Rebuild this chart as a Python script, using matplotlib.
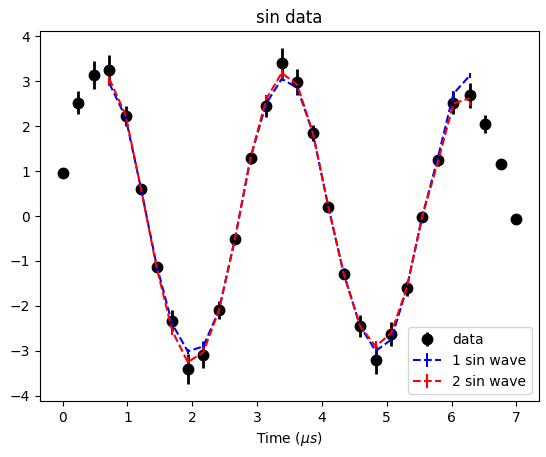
import numpy as np
import matplotlib
matplotlib.use("Agg")
import matplotlib.pyplot as plt

time = [0.00, 0.24, 0.48, 0.72, 0.97, 1.21, 1.45, 1.69, 1.93, 2.17,
        2.41, 2.66, 2.90, 3.14, 3.38, 3.62, 3.86, 4.10, 4.34, 4.59,
        4.83, 5.07, 5.31, 5.55, 5.79, 6.03, 6.28, 6.52, 6.76, 7.00]
data = [0.96, 2.52, 3.13, 3.24, 2.22, 0.60, -1.14, -2.33, -3.40, -3.08,
        -2.09, -0.51, 1.28, 2.45, 3.40, 2.98, 1.84, 0.20, -1.28, -2.45,
        -3.20, -2.62, -1.61, -0.02, 1.24, 2.52, 2.68, 2.05, 1.15, -0.06]
data_err = [0.0, 0.25, 0.31, 0.33, 0.22, 0.06, 0.11, 0.23, 0.34, 0.31,
            0.21, 0.05, 0.13, 0.25, 0.34, 0.30, 0.18, 0.02, 0.13, 0.25,
            0.32, 0.26, 0.16, 0.0, 0.12, 0.25, 0.27, 0.20, 0.06, 0.0]

fit_time = time[3:27]
fit1 = [2.95, 2.20, 0.60, -1.10, -2.40, -3.01, -2.90, -2.10, -0.50, 1.30,
        2.50, 3.05, 2.85, 1.85, 0.20, -1.30, -2.45, -3.00, -2.75, -1.60,
        0.00, 1.30, 2.72, 3.12]
fit1_err = [0.05, 0.03, 0.01, 0.02, 0.04, 0.06, 0.05, 0.03, 0.01, 0.02,
            0.04, 0.05, 0.05, 0.03, 0.01, 0.02, 0.04, 0.05, 0.05, 0.03,
            0.01, 0.02, 0.05, 0.06]
fit2 = [3.05, 2.25, 0.60, -1.15, -2.55, -3.25, -3.03, -2.10, -0.50, 1.30,
        2.60, 3.18, 2.92, 1.85, 0.20, -1.30, -2.45, -2.90, -2.60, -1.60,
        0.00, 1.20, 2.50, 2.62]
fit2_err = [0.15, 0.08, 0.02, 0.06, 0.10, 0.12, 0.11, 0.07, 0.02, 0.06,
            0.10, 0.12, 0.11, 0.07, 0.02, 0.06, 0.10, 0.11, 0.11, 0.07,
            0.02, 0.06, 0.11, 0.15]

fig = plt.figure(figsize=(5.46, 4.57), dpi=100)
ax = fig.add_axes([40/546, 1 - 401/457, 499/546, 370/457])
ax.errorbar(time, data, yerr=data_err, fmt='o', color='black', label='data',
            markersize=7.5, elinewidth=2)
ax.errorbar(fit_time, fit1, yerr=fit1_err, fmt='--', color='blue', label='1 sin wave')
ax.errorbar(fit_time, fit2, yerr=fit2_err, fmt='--', color='red', label='2 sin wave')
ax.set_title('sin data')
ax.set_xlabel(r'Time ($\mu s$)')
ax.legend(loc='lower right')
fig.savefig('out.png', dpi=100)
